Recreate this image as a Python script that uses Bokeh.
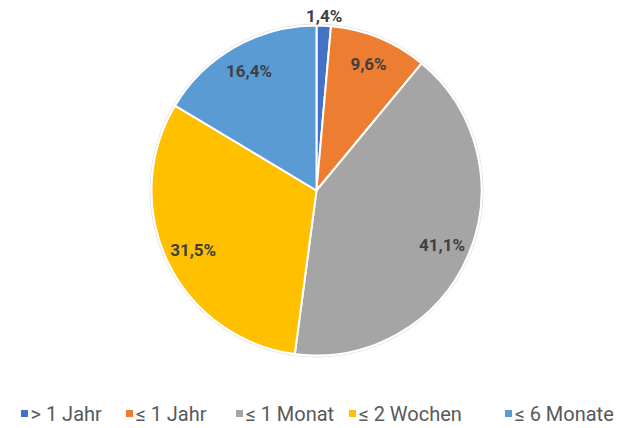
import math
from bokeh.plotting import figure
from bokeh.models import ColumnDataSource, Range1d
from bokeh.embed import file_html
from bokeh.resources import INLINE

categories = ["> 1 Jahr", "≤ 1 Jahr", "≤ 1 Monat", "≤ 2 Wochen", "≤ 6 Monate"]
shares = [1.4, 9.6, 41.1, 31.5, 16.4]
labels = ["1,4%", "9,6%", "41,1%", "31,5%", "16,4%"]
colors = ["#4472C4", "#ED7D31", "#A5A5A5", "#FFC000", "#5B9BD5"]

W, H = 628, 428
p = figure(width=W, height=H, output_backend="svg", toolbar_location=None,
           x_range=Range1d(0, W), y_range=Range1d(0, H), min_border=0)
p.axis.visible = False
p.grid.visible = False
p.outline_line_color = None

cx, cy, r = 316, 238, 165
total = sum(shares)
starts, ends, lx, ly = [], [], [], []
cum = 0.0
for s in shares:
    a0 = math.pi / 2 - 2 * math.pi * cum / total
    a1 = math.pi / 2 - 2 * math.pi * (cum + s) / total
    starts.append(a0)
    ends.append(a1)
    mid = (a0 + a1) / 2
    rr = r * 0.83 if s / total > 0.05 else r * 1.06
    lx.append(cx + rr * math.cos(mid))
    ly.append(cy + rr * math.sin(mid))
    cum += s

src = ColumnDataSource(dict(start=starts, end=ends, color=colors, cat=categories,
                            lx=lx, ly=ly, lab=labels))
p.circle(x=cx, y=cy, radius=r + 1.5, fill_color=None, line_color="#E3E3E3", line_width=1)
p.wedge(x=cx, y=cy, radius=r, start_angle="start", end_angle="end", direction="clock",
        fill_color="color", line_color="white", line_width=2, source=src)

p.text(x="lx", y="ly", text="lab", source=src, text_align="center", text_baseline="middle",
       text_font_size="17px", text_font_style="bold", text_color="#404040",
       text_font={"value": "Roboto"})

# legend (layout positions in pixels)
leg_x = [24, 129, 239, 352, 508]
leg_y = H - 413
leg = ColumnDataSource(dict(x=leg_x, tx=[x + 6 for x in leg_x], y=[leg_y] * 5,
                            color=colors, cat=categories))
p.rect(x="x", y="y", width=8, height=8, source=leg, fill_color="color",
       line_color="white", line_width=1)
p.text(x="tx", y="y", text="cat", source=leg, text_align="left", text_baseline="middle",
       text_font_size="20px", text_color="#595959", text_font={"value": "Roboto"})

open("out.html", "w").write(file_html(p, INLINE))
